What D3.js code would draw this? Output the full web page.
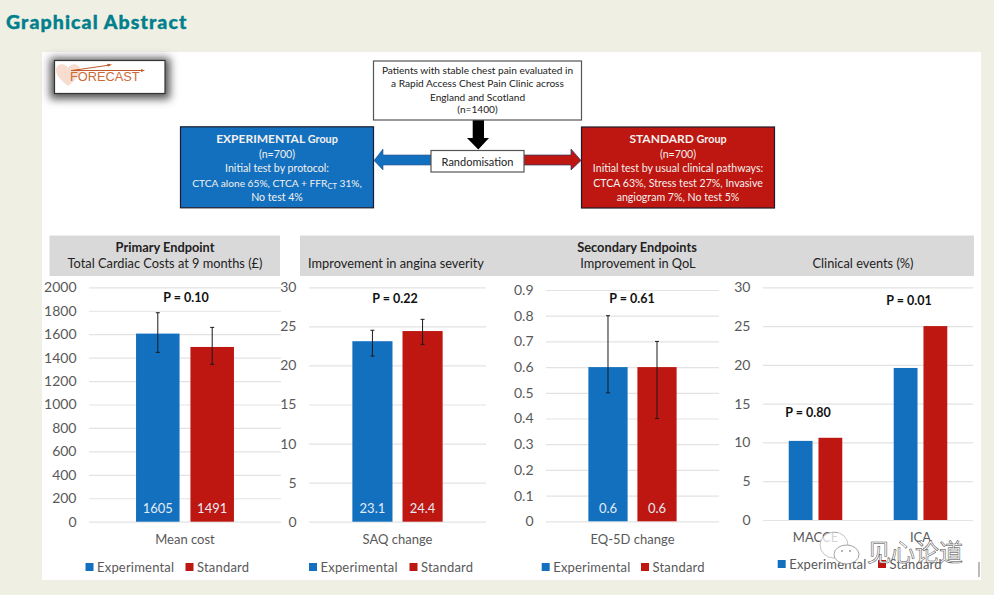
<!DOCTYPE html>
<html>
<head>
<meta charset="utf-8">
<script src="https://cdn.jsdelivr.net/npm/d3@7"></script>
<style>
  html, body { margin: 0; padding: 0; background: #f0efe4; }
  svg { display: block; font-family: Lato, "Open Sans", sans-serif; }
  .grid line { stroke: #e3e3e3; stroke-width: 1.2; }
  .grid text { fill: #595959; font-size: 14px; font-family: Lato, "Open Sans", sans-serif; }
  .grid .domain { display: none; }
  .cat { fill: #595959; font-size: 13px; text-anchor: middle; }
  .leg { fill: #595959; font-size: 13px; letter-spacing: .2px; }
  .pval { fill: #111; font-size: 12.5px; font-weight: 700; text-anchor: middle; }
  .head { fill: #222; font-size: 12.8px; text-anchor: middle; }
  .box { fill: #222; font-size: 10.15px; text-anchor: middle; }
  .boxw { fill: #f4f0ee; font-size: 10.6px; text-anchor: middle; }
</style>
</head>
<body>
<svg id="chart" width="994" height="595"></svg>
<script>
var series = ["Experimental", "Standard"],
    colors = ["#1270bf", "#be1610"];

// mean cost
var costCats = ["Mean cost"],
    costVals = [[1605, 1491]],
    costErr = [[[1445, 1783], [1343, 1658]]],
    costTicks = [0, 200, 400, 600, 800, 1000, 1200, 1400, 1600, 1800, 2000];

// angina
var saqCats = ["SAQ change"],
    saqVals = [[23.1, 24.4]],
    saqErr = [[[21.2, 24.5], [22.7, 25.9]]],
    saqTicks = [0, 5, 10, 15, 20, 25, 30];

// QoL
var eqCats = ["EQ-5D change"],
    eqVals = [[0.6, 0.6]],
    eqErr = [[[0.5, 0.8], [0.4, 0.7]]],
    eqTicks = [0, 0.1, 0.2, 0.3, 0.4, 0.5, 0.6, 0.7, 0.8, 0.9];

// clinical events, no error bars and no value labels here
var eventCats = ["MACCE", "ICA"],
    eventVals = [[10.2, 10.6], [19.6, 25]],
    eventTicks = [0, 5, 10, 15, 20, 25, 30];

var svg = d3.select("#chart");

svg.append("rect").attr("x", 42).attr("y", 52).attr("width", 939).attr("height", 528).attr("fill", "#fff");

svg.append("text").attr("x", 6).attr("y", 29)
    .attr("fill", "#00808c").attr("stroke", "#00808c").attr("stroke-width", .4)
    .attr("font-size", 19.5).attr("font-weight", 900)
    .attr("letter-spacing", 1.1).text("Graphical Abstract");

// grey header strips
[[49.5, 230.5], [300, 674]].forEach(function(d) {
  svg.append("rect").attr("x", d[0]).attr("y", 235.5).attr("width", d[1]).attr("height", 40.5).attr("fill", "#d9d9d9");
});

function headText(x, y, t, bold) {
  svg.append("text").attr("class", "head").attr("x", x).attr("y", y)
      .attr("font-weight", bold ? 700 : 400).text(t);
}
headText(165, 251.5, "Primary Endpoint", true);
headText(165, 268, "Total Cardiac Costs at 9 months (£)");
headText(396, 268, "Improvement in angina severity");
headText(637, 251.5, "Secondary Endpoints", true);
headText(638, 268, "Improvement in QoL");
headText(863, 268, "Clinical events (%)");

function drawPanel(o) {
  var y = d3.scaleLinear().domain(o.domain).range([o.y0, o.y1]);
  var x0 = d3.scaleBand().domain(o.cats).range([o.x0, o.x1]).paddingInner(.49).paddingOuter(.245);
  var x1 = d3.scaleBand().domain(series).range([0, x0.bandwidth()]).paddingInner(.2);

  var g = svg.append("g");

  g.append("g").attr("class", "grid")
      .attr("transform", "translate(" + o.x0 + ",0)")
      .call(d3.axisLeft(y).tickValues(o.ticks).tickFormat(function(d) { return d; })
        .tickSize(-(o.x1 - o.x0)).tickPadding(12.5));

  var groups = g.selectAll(".group")
      .data(o.cats)
    .enter().append("g")
      .attr("class", "group")
      .attr("transform", function(d) { return "translate(" + x0(d) + ",0)"; });

  groups.selectAll("rect")
      .data(function(d, i) { return o.vals[i].map(function(v, j) { return {v: v, s: series[j], c: colors[j]}; }); })
    .enter().append("rect")
      .attr("x", function(d) { return x1(d.s); })
      .attr("y", function(d) { return y(d.v); })
      .attr("width", x1.bandwidth())
      .attr("height", function(d) { return y(0) - y(d.v); })
      .attr("fill", function(d) { return d.c; });

  if (o.err) {
    o.err[0].forEach(function(e, j) {
      var cx = x0(o.cats[0]) + x1(series[j]) + x1.bandwidth() / 2;
      var p = d3.path();
      p.moveTo(cx, y(e[0])); p.lineTo(cx, y(e[1]));
      p.moveTo(cx - 2, y(e[0])); p.lineTo(cx + 2, y(e[0]));
      p.moveTo(cx - 2, y(e[1])); p.lineTo(cx + 2, y(e[1]));
      g.append("path").attr("d", p.toString()).attr("fill", "none").attr("stroke", "#1a1a1a").attr("stroke-width", 1);
      g.append("text").attr("x", cx).attr("y", 513).attr("text-anchor", "middle")
          .attr("fill", "#e4ebf4").attr("font-size", 13).text(o.vals[0][j]);
    });
  }

  o.cats.forEach(function(c) {
    g.append("text").attr("class", "cat")
        .attr("x", x0(c) + x0.bandwidth() / 2).attr("y", o.catY).text(c);
  });

  o.pvals.forEach(function(p) {
    g.append("text").attr("class", "pval").attr("x", p[0]).attr("y", p[1]).text(p[2]);
  });

  series.forEach(function(s, j) {
    g.append("rect").attr("x", o.legX[j]).attr("y", o.legY - 4).attr("width", 8).attr("height", 8).attr("fill", colors[j]);
    g.append("text").attr("class", "leg").attr("x", o.legX[j] + 11.5).attr("y", o.legY + 4.5).text(s);
  });
}

drawPanel({cats: costCats, vals: costVals, err: costErr, ticks: costTicks, domain: [0, 2000],
  x0: 89, x1: 281, y0: 521.7, y1: 287.3, catY: 543.5, legX: [85.5, 185.5], legY: 567, pvals: [[186, 301.5, "P = 0.10"]]});
drawPanel({cats: saqCats, vals: saqVals, err: saqErr, ticks: saqTicks, domain: [0, 30],
  x0: 309, x1: 486, y0: 521.7, y1: 287.3, catY: 543.5, legX: [309, 409.5], legY: 567, pvals: [[395, 303, "P = 0.22"]]});
drawPanel({cats: eqCats, vals: eqVals, err: eqErr, ticks: eqTicks, domain: [0, 0.9],
  x0: 546, x1: 719, y0: 521.3, y1: 290, catY: 543.5, legX: [541.7, 641], legY: 567, pvals: [[632, 303, "P = 0.61"]]});
drawPanel({cats: eventCats, vals: eventVals, ticks: eventTicks, domain: [0, 30],
  x0: 763, x1: 973, y0: 520, y1: 287.3, catY: 541.5, legX: [777.7, 878], legY: 564,
  pvals: [[808, 417, "P = 0.80"], [909, 305, "P = 0.01"]]});

// flow diagram
function block(x, y, w, h, fill) {
  svg.append("rect").attr("x", x).attr("y", y).attr("width", w).attr("height", h)
      .attr("fill", fill).attr("stroke", fill === "#fff" ? "#555" : "#1c1c2a").attr("stroke-width", 1.2);
}
function lines(cls, cx, ys, rows) {
  rows.forEach(function(r, i) {
    svg.append("text").attr("class", cls).attr("x", cx).attr("y", ys[i]).text(r);
  });
}

svg.append("path").attr("d", "M472.7 120H484V138H489L478.3 149.5L467 138H472.7Z").attr("fill", "#000");
svg.append("path").attr("d", "M431 155H383V149L374 160.5L383 170V165H431Z").attr("fill", "#1270bf").attr("stroke", "#2b4f8c").attr("stroke-width", .6);
svg.append("path").attr("d", "M524 155H571V149L581 160.5L571 170V165H524Z").attr("fill", "#be1610").attr("stroke", "#2b3a6c").attr("stroke-width", .7);

block(373.5, 61, 208, 59, "#fff");
lines("box", 477.5, [74, 87, 100.5, 113], ["Patients with stable chest pain evaluated in", "a Rapid Access Chest Pain Clinic across", "England and Scotland", "(n=1400)"]);
block(431, 150.5, 93, 21.5, "#fff");
svg.append("text").attr("class", "box").attr("x", 477.5).attr("y", 165.5).style("font-size", "11px").text("Randomisation");

block(180.5, 126.8, 193, 81, "#1270bf");
var t1 = svg.append("text").attr("class", "boxw").attr("x", 277).attr("y", 143);
t1.append("tspan").attr("font-weight", 700).style("font-size", "12px").text("EXPERIMENTAL");
t1.append("tspan").attr("font-weight", 700).style("font-size", "10.8px").text(" Group");
lines("boxw", 277, [158, 172], ["(n=700)", "Initial test by protocol:"]);
var t2 = svg.append("text").attr("class", "boxw").attr("x", 277).attr("y", 187).style("font-size", "10.2px");
t2.append("tspan").text("CTCA alone 65%, CTCA + FFR");
t2.append("tspan").attr("dy", 2).style("font-size", "7.5px").text("CT");
t2.append("tspan").attr("dy", -2).text(" 31%,");
lines("boxw", 277, [200.5], ["No test 4%"]);

block(581.5, 127, 193, 81, "#be1610");
var t3 = svg.append("text").attr("class", "boxw").attr("x", 678).attr("y", 143);
t3.append("tspan").attr("font-weight", 700).style("font-size", "12px").text("STANDARD");
t3.append("tspan").attr("font-weight", 700).style("font-size", "10.8px").text(" Group");
lines("boxw", 678, [158, 172, 187, 200.5], ["(n=700)", "Initial test by usual clinical pathways:", "CTCA 63%, Stress test 27%, Invasive", "angiogram 7%, No test 5%"]);

// FORECAST logo
var defs = svg.append("defs");
defs.append("filter").attr("id", "soft").attr("x", "-20%").attr("y", "-50%").attr("width", "140%").attr("height", "200%")
    .append("feGaussianBlur").attr("stdDeviation", 4);
svg.append("rect").attr("x", 50).attr("y", 58).attr("width", 120).attr("height", 41).attr("fill", "#555").attr("filter", "url(#soft)");
svg.append("rect").attr("x", 54.5).attr("y", 60.5).attr("width", 110.5).attr("height", 33).attr("fill", "#fff").attr("stroke", "#333").attr("stroke-width", 1.2);
svg.append("path").attr("d", "M68 86C58 78 55.500 73 56 69C57 63 65 63 68 68C71 63 79 63 80 69C80.500 73 78 78 68 86Z").attr("fill", "#f6ddd0");
svg.append("text").attr("x", 70).attr("y", 81).attr("fill", "#cc6a3a").attr("font-size", 12.8)
    .style("font-family", "'Liberation Sans', Arial, sans-serif").text("FORECAST");
svg.append("path").attr("d", "M72 70.500L110 65M71 70.500H143").attr("stroke", "#c25a2c").attr("stroke-width", 1).attr("fill", "none");
svg.append("path").attr("d", "M112 64.500L107 63.800L108 66.800ZM145 70.500L141 69V72Z").attr("fill", "#c25a2c");

// watermark over the last panel
svg.append("ellipse").attr("cx", 834).attr("cy", 545).attr("rx", 14).attr("ry", 13)
    .attr("fill", "#fff").attr("fill-opacity", .75).attr("stroke", "#aaa").attr("stroke-width", .7);
svg.append("ellipse").attr("cx", 846.5).attr("cy", 554.5).attr("rx", 12.5).attr("ry", 9.5)
    .attr("fill", "#fff").attr("stroke", "#666").attr("stroke-width", .6);
svg.append("circle").attr("cx", 842).attr("cy", 551).attr("r", .8).attr("fill", "#555");
svg.append("circle").attr("cx", 850).attr("cy", 551).attr("r", .8).attr("fill", "#555");
svg.append("text").attr("x", 867).attr("y", 561).attr("font-size", 24)
    .attr("fill", "#fff").attr("stroke", "#444").attr("stroke-width", .5)
    .style("font-family", "'Noto Sans CJK SC'").text("见心论道");
svg.append("line").attr("x1", 979).attr("x2", 979).attr("y1", 562).attr("y2", 577).attr("stroke", "#777").attr("stroke-width", 1);
</script>
</body>
</html>
